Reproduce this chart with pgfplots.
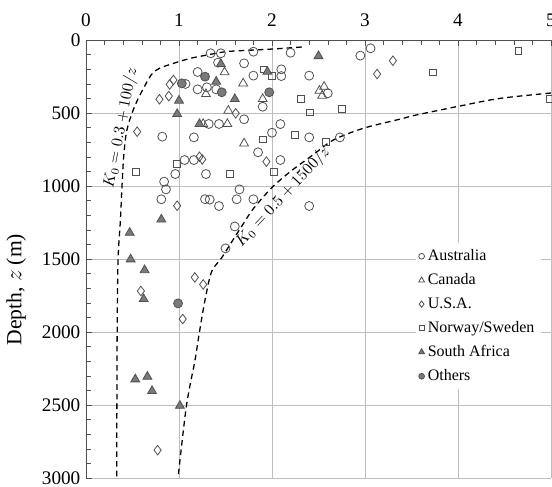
\documentclass[border=0pt]{standalone}
\usepackage{pgfplots}
\pgfplotsset{compat=1.18}
\usepackage{fontspec}
\setmainfont{Liberation Serif}
\usetikzlibrary{calc}
\definecolor{mk}{HTML}{505050}
\definecolor{fl}{HTML}{7A7A7A}
\definecolor{gr}{HTML}{BDBDBD}
\pgfplotsset{
  lg/.style={legend image code/.code={\draw[##1] plot coordinates {(0.12cm,0cm)};}},
}
\begin{document}
\begin{tikzpicture}
\begin{axis}[
  width=290.6pt, height=273.75pt, scale only axis,
  xmin=0, xmax=5, ymin=0, ymax=3000, y dir=reverse,
  axis x line*=top, axis y line*=left,
  x axis line style={-, draw=mk}, y axis line style={-, draw=mk},
  xtick={0,1,2,3,4,5}, ytick={0,500,1000,1500,2000,2500,3000},
  minor x tick num=4, minor y tick num=4,
  tick align=inside, tick style={draw=mk},
  major tick length=4pt, minor tick length=3pt,
  grid=major, major grid style={draw=gr, line width=0.5pt},
  scaled y ticks=false,
  /pgf/number format/1000 sep={},
  /pgf/number format/assume math mode=true,
  ticklabel style={font=\fontsize{12}{14}\selectfont},
  xticklabel style={yshift=5pt},
  ylabel={Depth, $z$ (m)},
  ylabel style={at={(axis description cs:-0.15,0.43)}, anchor=center, font=\fontsize{13.5}{16}\selectfont},
  legend style={draw=none, fill=white, at={(axis description cs:0.708,0.537)}, anchor=north west,
    font=\normalsize, row sep=2.6pt, inner sep=2pt, cells={anchor=west}},
  legend cell align=left,
  clip=true,
]
% Australia
\addplot[only marks, mark=o, mark size=2.8pt, mark options={draw=mk, line width=0.5pt}, lg,
  legend image post style={mark size=1.8pt}] coordinates {
(1.34,91)(1.45,91)(1.80,80)(2.20,87)(2.95,107)(3.06,57)
(1.42,155)(1.70,160)
(2.10,201)(2.10,247)(1.80,244)(2.40,244)
(1.20,219)(1.07,301)(1.20,338)(1.30,324)(1.40,338)
(1.90,457)(2.60,365)
(1.70,543)(1.32,575)(1.43,575)(2.09,576)
(2.00,635)(2.40,667)(2.73,667)(0.82,662)(1.16,667)
(1.06,822)(1.16,822)(1.85,769)(2.09,822)
(0.96,918)(1.29,918)(0.84,970)(0.86,1023)(1.65,1023)
(0.81,1091)(1.28,1090)(1.33,1093)(1.43,1137)(1.62,1091)(1.80,1091)(2.40,1137)
(1.60,1277)(1.50,1427)
};
\addlegendentry{Australia}
% Canada
\addplot[only marks, mark=triangle, mark size=3.2pt, mark options={draw=mk, line width=0.5pt}, lg,
  legend image post style={mark size=2.1pt}] coordinates {
(1.49,221)(1.69,297)(1.29,370)(1.53,484)(1.90,404)(1.26,575)(1.52,575)(1.70,708)
(2.51,347)(2.56,320)(2.54,381)
};
\addlegendentry{Canada}
% USA
\addplot[only marks, mark=diamond, mark size=3pt, mark options={draw=mk, line width=0.5pt}, lg,
  legend image post style={mark size=2pt}] coordinates {
(3.30,142)(3.13,233)(0.94,274)(0.90,304)(0.79,406)(0.89,384)(1.61,502)(0.55,628)
(1.22,800)(1.25,818)(1.94,833)(0.98,1135)(1.17,1626)(1.26,1674)(0.59,1719)(1.04,1911)(0.77,2809)
};
\addlegendentry{U.S.A.}
% Norway/Sweden
\addplot[only marks, mark=square, mark size=2.1pt, mark options={draw=mk, line width=0.5pt}, lg,
  legend image post style={mark size=1.5pt}] coordinates {
(1.91,201)(2.00,247)(2.31,402)(2.41,495)(2.75,473)(3.73,221)(4.65,73)(4.99,402)
(1.90,680)(2.25,651)(2.58,697)(0.98,849)(0.54,902)(1.55,918)(2.02,902)
};
\addlegendentry{Norway/Sweden}
% South Africa
\addplot[only marks, mark=triangle*, mark size=3.2pt, mark options={draw=mk, fill=fl, line width=0.5pt}, lg,
  legend image post style={mark size=2.1pt}] coordinates {
(2.50,110)(1.45,164)(1.95,217)(1.40,285)(1.60,404)(1.00,415)(0.98,507)(1.22,575)
(0.81,1229)(0.47,1320)(0.48,1502)(0.63,1576)(0.62,1774)(0.53,2324)(0.66,2306)(0.71,2404)(1.01,2505)
};
\addlegendentry{South Africa}
% Others
\addplot[only marks, mark=*, mark size=2.8pt, mark options={draw=mk, fill=fl, line width=0.5pt}, lg,
  legend image post style={mark size=1.8pt}] coordinates {
(1.03,297)(1.28,251)(1.46,358)(1.97,358)(0.99,1804)
};
\addlegendentry{Others}
% curve K0 = 0.3 + 100/z
\addplot[black, line width=0.8pt, dash pattern=on 3.5pt off 2.5pt, smooth, forget plot] coordinates {
(2.32,48)(2.0,62)(1.70,72)(1.50,80)(1.30,103)(1.12,126)(0.94,160)(0.79,194)(0.70,240)
(0.58,377)(0.52,460)(0.47,548)(0.43,650)(0.40,845)(0.37,1233)(0.345,1502)(0.335,2000)(0.33,3000)
};
% curve K0 = 0.5 + 1500/z
\addplot[black, line width=0.8pt, dash pattern=on 3.5pt off 2.5pt, smooth, forget plot] coordinates {
(5.0,363)(4.45,400)(4.02,452)(3.55,514)(3.37,543)(2.98,605)(2.66,685)(2.44,787)(2.2,900)
(2.0,1010)(1.80,1155)(1.69,1260)(1.55,1400)(1.45,1500)(1.35,1587)(1.28,1780)(1.22,2000)
(1.17,2200)(1.08,2505)(0.99,2995)
};
\node[rotate=79, font=\normalsize] at (axis cs:0.376,603) {$K_0=0.3+100/z$};
\node[rotate=47, font=\normalsize] at (axis cs:2.12,1075) {$K_0=0.5+1500/z$};
\end{axis}
\pgfresetboundingbox
\path ($(current axis.south west)+(-53.75pt,-5.6pt)$) rectangle ($(current axis.north east)+(0.63pt,25pt)$);
\end{tikzpicture}
\end{document}
